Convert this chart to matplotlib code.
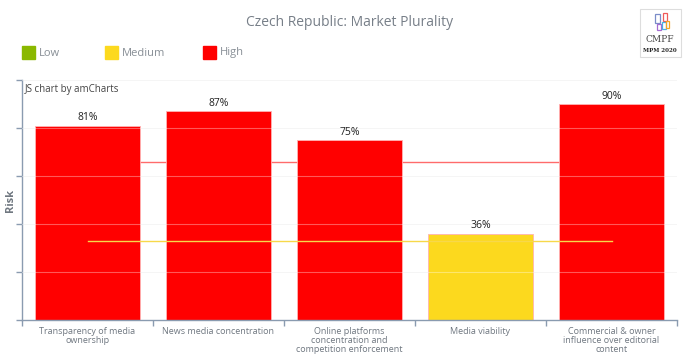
import matplotlib
matplotlib.use("Agg")
import matplotlib.pyplot as plt
from matplotlib.patches import Rectangle

categories = ["Transparency of media\nownership", "News media concentration",
              "Online platforms\nconcentration and\ncompetition enforcement",
              "Media viability",
              "Commercial & owner\ninfluence over editorial\ncontent"]
values = [81, 87, 75, 36, 90]
levels = ["High", "High", "High", "Medium", "High"]
high_threshold = 66
medium_threshold = 33
legend_labels = ["Low", "Medium", "High"]
level_colors = {"Low": "#8ab800", "Medium": "#fcd91e", "High": "#ff0000"}

plt.rcParams['font.family'] = ['Open Sans', 'DejaVu Sans']
fig = plt.figure(figsize=(7, 3.62), dpi=100)
W, H = 700, 362
ax = fig.add_axes([22 / W, (H - 320) / H, (677 - 22) / W, 240 / H])

x = list(range(len(categories)))
ax.bar(x, values, width=0.8, color=[level_colors[l] for l in levels],
       edgecolor="#ffb3b3", linewidth=0.6, zorder=2)
for xi, v in zip(x, values):
    ax.text(xi, v + 1, f"{v}%", ha="center", va="bottom", fontsize=7.5, color="#222222", zorder=5)

ax.plot([x[0], x[-1]], [high_threshold] * 2, color="#ff6b6b", lw=1.0, zorder=1)
ax.plot([x[0], x[-1]], [medium_threshold] * 2, color="#f7d84a", lw=1.0, zorder=4)

ax.set_xlim(-0.5, len(categories) - 0.5)
ax.set_ylim(0, 100)
for g in [20, 40, 60, 80, 100]:
    ax.axhline(g, color="#ffffff", lw=0.8, alpha=0.35, zorder=3)
    ax.axhline(g, color="#eeeeee", lw=0.6, zorder=0.5)

ax.set_yticks([0, 20, 40, 60, 80, 100])
ax.set_yticklabels([])
ax.set_xticks([i - 0.5 for i in range(len(categories) + 1)], minor=False)
ax.set_xticklabels([])
ax.tick_params(axis="x", colors="#8a9bb0", length=4, width=1, direction="out")
ax.tick_params(axis="y", colors="#8a9bb0", length=4, width=1, direction="out")
for s in ["top", "right"]:
    ax.spines[s].set_visible(False)
for s in ["left", "bottom"]:
    ax.spines[s].set_color("#8a9bb0")
    ax.spines[s].set_linewidth(1)

for xi, c in zip(x, categories):
    ax.text(xi, -2.8, c, ha="center", va="top", fontsize=6.5, color="#6f7780",
            linespacing=1.0, transform=ax.transData)

fig.text(10 / W, 1 - 200 / H, "Risk", rotation=90, ha="center", va="center",
         fontsize=8, color="#6f7780", fontweight="bold")
ax.text(0.005, 0.985, "JS chart by amCharts", transform=ax.transAxes, fontsize=7,
        color="#444444", ha="left", va="top")

fig.text(350 / W, 1 - 22 / H, "Czech Republic: Market Plurality", ha="center", va="center",
         fontsize=10, color="#777f88")

leg_x = [22, 105, 203]
for lx, lab in zip(leg_x, legend_labels):
    fig.patches.append(Rectangle((lx / W, 1 - 59 / H), 13 / W, 13 / H,
                                 transform=fig.transFigure, color=level_colors[lab]))
    fig.text((lx + 17) / W, 1 - 53 / H, lab, ha="left", va="center", fontsize=8, color="#888f96")

# logo
fig.patches.append(Rectangle((640 / W, 1 - 57 / H), 41 / W, 48 / H, transform=fig.transFigure,
                             facecolor="white", edgecolor="#dddddd", lw=0.8))
for (rx, ry, rw, rh, col) in [(655, 14, 5, 9, "#7a8cc8"), (663, 13, 4, 8, "#f05a5a"),
                              (657, 24, 4, 6, "#a36ad0"), (662, 22, 4, 7, "#4ab0e0"),
                              (666, 21, 3, 7, "#f5a623")]:
    fig.patches.append(Rectangle((rx / W, 1 - (ry + rh) / H), rw / W, rh / H,
                                 transform=fig.transFigure, facecolor="none", edgecolor=col, lw=0.9))
fig.text(660 / W, 1 - 40 / H, "CMPF", ha="center", va="center", fontsize=6.5, color="#444444",
         family="DejaVu Serif")
fig.text(660 / W, 1 - 50 / H, "MPM 2020", ha="center", va="center", fontsize=4, color="#222222",
         fontweight="bold", family="DejaVu Serif")

fig.savefig("out.png", dpi=100, facecolor="white")
